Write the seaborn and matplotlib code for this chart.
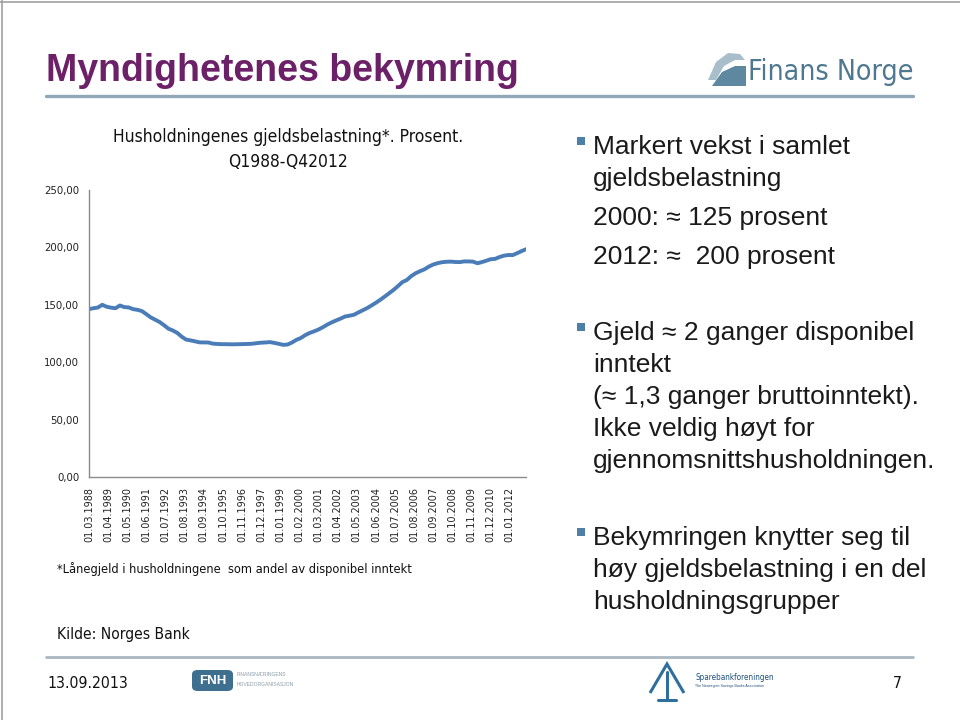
import numpy as np
import pandas as pd
import matplotlib
matplotlib.use("Agg")
import matplotlib.pyplot as plt
import seaborn as sns
from matplotlib import font_manager
from matplotlib.font_manager import FontProperties
from matplotlib.patches import Polygon, FancyBboxPatch, Rectangle
from matplotlib.lines import Line2D

# ---------------- data ----------------
debt_ratio = [
    146.2, 147.0, 147.6, 150.0, 148.3, 147.5, 147.0, 149.4, 148.0, 147.7,
    146.2, 145.6, 144.5, 141.8, 139.0, 137.0, 135.0, 132.2, 129.2, 127.6,
    125.5, 122.2, 119.7, 119.0, 118.2, 117.3, 117.2, 117.2, 116.2, 115.9,
    115.7, 115.7, 115.6, 115.6, 115.7, 115.8, 115.9, 116.1, 116.6, 117.0,
    117.2, 117.5, 116.8, 116.0, 115.1, 115.4, 117.2, 119.5, 121.1, 123.6,
    125.5, 126.9, 128.5, 130.5, 132.8, 134.7, 136.4, 138.0, 139.8, 140.5,
    141.3, 143.3, 145.2, 147.1, 149.4, 151.8, 154.4, 157.2, 160.1, 163.0,
    166.3, 169.8, 171.6, 175.0, 177.5, 179.3, 180.9, 183.3, 185.1, 186.3,
    187.1, 187.5, 187.6, 187.3, 187.2, 187.8, 187.8, 187.6, 186.2, 187.2,
    188.4, 189.7, 190.0, 191.6, 192.8, 193.4, 193.3, 195.0, 196.8, 198.4,
]
x_tick_labels = [
    "01.03.1988", "01.04.1989", "01.05.1990", "01.06.1991", "01.07.1992",
    "01.08.1993", "01.09.1994", "01.10.1995", "01.11.1996", "01.12.1997",
    "01.01.1999", "01.02.2000", "01.03.2001", "01.04.2002", "01.05.2003",
    "01.06.2004", "01.07.2005", "01.08.2006", "01.09.2007", "01.10.2008",
    "01.11.2009", "01.12.2010", "01.01.2012",
]
y_ticks = [0, 50, 100, 150, 200, 250]

# months since March 1988 for each quarterly observation
months = [3 * i for i in range(len(debt_ratio))]
df = pd.DataFrame({"month": months, "value": debt_ratio})
tick_months = [13 * i for i in range(len(x_tick_labels))]

# ---------------- fonts ----------------
sns.set_theme(style="white")
plt.rcParams["font.family"] = ["Liberation Sans", "DejaVu Sans"]

narrow_file = None
NF = 0.84
fl = font_manager.fontManager.ttflist
for f in fl:
    if f.name == "Liberation Sans Narrow" and f.weight in (400, "normal", "regular") and f.style == "normal":
        narrow_file, NF = f.fname, 1.0
        break
if narrow_file is None:
    for f in fl:
        st = str(f.stretch)
        if (("Condensed" in f.name or "Narrow" in f.name or st in ("condensed", "semi-condensed"))
                and "Sans" in f.name and f.style == "normal"
                and f.weight in (400, "normal", "regular", "book")
                and "Mono" not in f.name and "CJK" not in f.name):
            narrow_file, NF = f.fname, 0.81
            break


def NP(size):
    if narrow_file:
        return FontProperties(fname=narrow_file, size=size * NF)
    return FontProperties(family=["Liberation Sans", "DejaVu Sans"], size=size * NF)


W, H = 960, 720
fig = plt.figure(figsize=(9.6, 7.2), dpi=100)
fig.patch.set_facecolor("white")


def P(x, y):
    return x / W, 1 - y / H


def ftext(x, y, s, **kw):
    fig.text(*P(x, y), s, **kw)


# slide border (top and left)
fig.add_artist(Line2D([0, 1], [1 - 2 / H, 1 - 2 / H], transform=fig.transFigure, color="#a0a0a0", lw=1.2))
fig.add_artist(Line2D([2 / W, 2 / W], [0, 1], transform=fig.transFigure, color="#a0a0a0", lw=1.2))

# title
ftext(46, 71, "Myndighetenes bekymring", fontsize=27, fontweight="bold",
      color="#6B2067", ha="left", va="center", family=["Liberation Sans", "DejaVu Sans"])
fig.add_artist(Line2D([46 / W, 913 / W], [1 - 96 / H, 1 - 96 / H], transform=fig.transFigure,
                      color="#8FA7B6", lw=2.4))

# Finans Norge logo
icon_outer = Polygon([P(708, 80), P(716, 62), P(728, 53), P(740, 54), P(745, 60),
                      P(735, 60), P(724, 66), P(716, 80)], closed=True,
                     transform=fig.transFigure, facecolor="#A9BECB", edgecolor="none")
icon_inner = Polygon([P(712, 86), P(722, 72), P(735, 66), P(746, 66), P(746, 86)], closed=True,
                     transform=fig.transFigure, facecolor="#5E889F", edgecolor="none")
fig.add_artist(icon_outer)
fig.add_artist(icon_inner)
ftext(748, 72, "Finans Norge", fontproperties=NP(25.2), color="#4F7890", ha="left", va="center")

# ---------------- chart ----------------
ax = fig.add_axes([89 / W, 1 - 477 / H, (526 - 89) / W, (477 - 190) / H])
sns.lineplot(data=df, x="month", y="value", ax=ax, color="#4A7CB8", linewidth=2.8)
ax.set_xlim(0, 297)
ax.set_ylim(0, 250)
ax.set_yticks(y_ticks)
ax.set_yticklabels([f"{v:.2f}".replace(".", ",") for v in y_ticks],
                   fontproperties=NP(10), color="#222222")
ax.set_xticks(tick_months)
ax.set_xticklabels(x_tick_labels, rotation=90, fontproperties=NP(9.6), color="#222222")
ax.set_xlabel("")
ax.set_ylabel("")
ax.grid(False)
ax.set_facecolor("none")
for s in ["top", "right"]:
    ax.spines[s].set_visible(False)
for s in ["left", "bottom"]:
    ax.spines[s].set_color("#8a8a8a")
    ax.spines[s].set_linewidth(1.0)
ax.tick_params(axis="both", direction="out", length=4, width=0.9, color="#8a8a8a", pad=3)
ax.tick_params(axis="y", pad=3)

ftext(288, 137, "Husholdningenes gjeldsbelastning*. Prosent.", fontproperties=NP(15.4),
      ha="center", va="center", color="#111111")
ftext(288, 162, "Q1988-Q42012", fontproperties=NP(15.4),
      ha="center", va="center", color="#111111")

ftext(57, 569, "*Lånegjeld i husholdningene  som andel av disponibel inntekt", fontproperties=NP(11.4),
      ha="left", va="center", color="#111111")
ftext(57, 634, "Kilde: Norges Bank", fontproperties=NP(13.8),
      ha="left", va="center", color="#111111")

# ---------------- bullets ----------------
bullet_color = "#4E7FA6"
bullets = [
    (147, ["Markert vekst i samlet", "gjeldsbelastning"]),
    (333, ["Gjeld \u2248 2 ganger disponibel", "inntekt", "(\u2248 1,3 ganger bruttoinntekt).",
           "Ikke veldig høyt for", "gjennomsnittshusholdningen."]),
    (538, ["Bekymringen knytter seg til", "høy gjeldsbelastning i en del", "husholdningsgrupper"]),
]
for y0, lines in bullets:
    fig.add_artist(Rectangle(P(577, y0 - 2), 8 / W, 8 / H, transform=fig.transFigure,
                             facecolor=bullet_color, edgecolor="none"))
    for k, line in enumerate(lines):
        ftext(593, y0 + k * 32, line, fontsize=19, ha="left", va="center", color="#1a1a1a")
ftext(593, 218, "2000: \u2248 125 prosent", fontsize=19, ha="left", va="center", color="#1a1a1a")
ftext(593, 257, "2012: \u2248  200 prosent", fontsize=19, ha="left", va="center", color="#1a1a1a")

# ---------------- footer ----------------
fig.add_artist(Line2D([46 / W, 913 / W], [1 - 657 / H, 1 - 657 / H], transform=fig.transFigure,
                      color="#A9B8C2", lw=2.0))
ftext(47, 684, "13.09.2013", fontproperties=NP(14), ha="left", va="center", color="#111111")
ftext(902, 684, "7", fontproperties=NP(14), ha="right", va="center", color="#111111")

# FNH logo
fig.add_artist(FancyBboxPatch(P(192, 691), 41 / W, 21 / H, boxstyle="round,pad=0,rounding_size=0.006",
                              transform=fig.transFigure, facecolor="#3F6F8F", edgecolor="none"))
ftext(212.5, 680.5, "FNH", fontsize=9.5, fontweight="bold", color="white", ha="center", va="center")
ftext(237, 674, "FINANSNÆRINGENS", fontsize=3.6, color="#8A9BA8", ha="left", va="center")
ftext(237, 684, "HOVEDORGANISASJON", fontsize=3.6, color="#8A9BA8", ha="left", va="center")

# Sparebankforeningen logo
sb = "#2F6F9E"
fig.add_artist(Polygon([P(650, 693), P(667, 664), P(684, 693)], closed=False, fill=False,
                       transform=fig.transFigure, edgecolor=sb, lw=2.2))
fig.add_artist(Line2D([667 / W, 667 / W], [1 - 700 / H, 1 - 672 / H], transform=fig.transFigure,
                      color=sb, lw=2.2))
fig.add_artist(Line2D([658 / W, 676 / W], [1 - 700 / H, 1 - 700 / H], transform=fig.transFigure,
                      color=sb, lw=2.2))
ftext(695, 677, "Sparebankforeningen", fontproperties=NP(7.2), color="#1F4F78", ha="left", va="center")
ftext(695, 686, "The Norwegian Savings Banks Association", fontsize=2.6, color="#1F4F78",
      ha="left", va="center")

fig.savefig("out.png", dpi=100, facecolor="white")
